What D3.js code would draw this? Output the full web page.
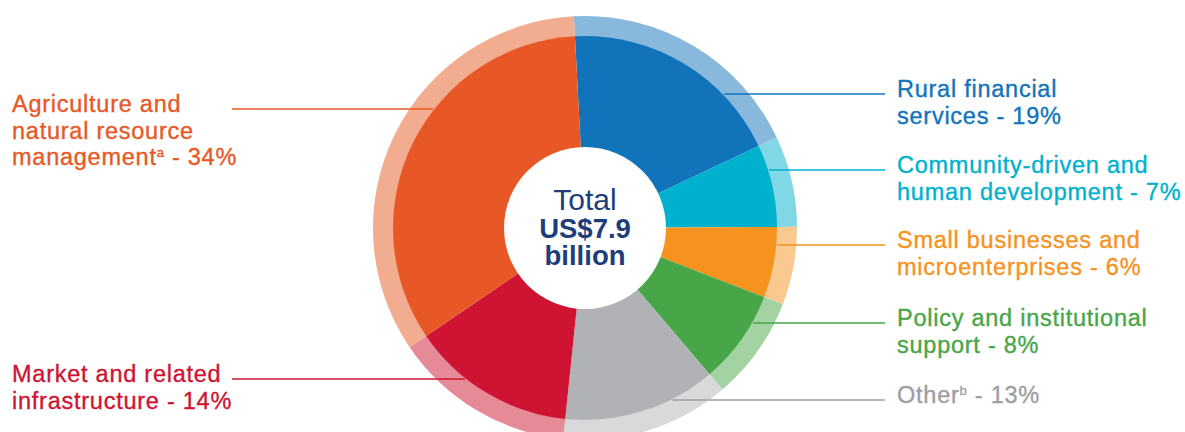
<!DOCTYPE html>
<html>
<head>
<meta charset="utf-8">
<script src="https://cdn.jsdelivr.net/npm/d3@7"></script>
<style>
    body { margin: 0; background: #fff; }
    text { font-family: "Liberation Sans", Arial, Helvetica, sans-serif; }
</style>
</head>
<body>
<svg id="Chart"></svg>
<script>
// data, clockwise from the top
const categories = [
    'Rural financial services',
    'Community-driven and human development',
    'Small businesses and microenterprises',
    'Policy and institutional support',
    'Other',
    'Market and related infrastructure',
    'Agriculture and natural resource management'
];
const shares = [19, 7, 6, 8, 13, 14, 34];
// label text as printed, {x} marks a footnote superscript
const labelLines = [
    ['Rural financial', 'services'],
    ['Community-driven and', 'human development'],
    ['Small businesses and', 'microenterprises'],
    ['Policy and institutional', 'support'],
    ['Other{b}'],
    ['Market and related', 'infrastructure'],
    ['Agriculture and', 'natural resource', 'management{a}']
];
const centerLines = ['Total', 'US$7.9', 'billion'];

// styles
const sliceColors = ['#1174BB', '#00B1CD', '#F6921E', '#47A647', '#B1B2B6', '#CE1432', '#E85826'];
const ringColors = ['#88B8DC', '#80D8E6', '#FAC98F', '#A3D3A3', '#D8D9DB', '#E68A98', '#F2AC90'];
const textColors = ['#1174BB', '#00B1CD', '#F6921E', '#47A647', '#9D9EA2', '#CE1432', '#E85826'];

// layout (leader line heights chosen by the designer, not slice midpoints)
const leaderY = [94, 170, 245, 323, 400, 379, 109];
const leaderSide = ['right', 'right', 'right', 'right', 'right', 'left', 'left'];

function getConfig() {
    let width = 1185;
    let height = 432;
    let cx = 585, cy = 228;
    let pieRadius = 192, ringRadius = 212, holeRadius = 81;
    let container = d3.select('#Chart')
        .attr('width', width)
        .attr('height', height);
    return { width, height, cx, cy, pieRadius, ringRadius, holeRadius, container };
}

function drawPie(config) {
    let { container, cx, cy, pieRadius, ringRadius, holeRadius } = config;
    let deg = Math.PI / 180;
    let pie = d3.pie().sort(null).value(d => d)
        .startAngle(-3 * deg)
        .endAngle(357 * deg);
    let arcs = pie(shares);

    let body = container.append('g')
        .attr('transform', `translate(${cx},${cy})`);

    let ringArc = d3.arc().innerRadius(pieRadius - 0.5).outerRadius(ringRadius);
    let sliceArc = d3.arc().innerRadius(0).outerRadius(pieRadius);

    body.selectAll('.ring').data(arcs)
        .enter().append('path')
        .attr('class', 'ring')
        .attr('d', ringArc)
        .attr('fill', (d, i) => ringColors[i]);

    body.selectAll('.slice').data(arcs)
        .enter().append('path')
        .attr('class', 'slice')
        .attr('d', sliceArc)
        .attr('fill', (d, i) => sliceColors[i]);

    body.append('circle')
        .attr('r', holeRadius)
        .attr('fill', '#fff');

    let center = body.append('text')
        .attr('text-anchor', 'middle')
        .attr('fill', '#1D3E7A');
    center.selectAll('tspan').data(centerLines)
        .enter().append('tspan')
        .attr('x', 0)
        .attr('y', (d, i) => -18 + i * 27.5)
        .style('font-size', (d, i) => i === 0 ? '30px' : '27.5px')
        .style('font-weight', (d, i) => i === 0 ? 'normal' : 'bold')
        .text(d => d);
}

function drawLabels(config) {
    let { container, cx, cy } = config;
    let lineR = 193;
    let rightEnd = 885, rightText = 897;
    let leftEnd = 232, leftText = 12;
    let lineHeight = 26.5;

    categories.forEach((c, i) => {
        let y = leaderY[i];
        let dx = Math.sqrt(lineR * lineR - (y - cy) * (y - cy));
        let right = leaderSide[i] === 'right';
        let x1 = right ? cx + dx : leftEnd;
        let x2 = right ? rightEnd : cx - dx;

        container.append('line')
            .attr('x1', x1).attr('x2', x2)
            .attr('y1', y).attr('y2', y)
            .attr('stroke', textColors[i])
            .attr('stroke-width', 1.5);

        let lines = labelLines[i].slice();
        lines[lines.length - 1] += ` - ${shares[i]}%`;

        let label = container.append('text')
            .attr('fill', textColors[i])
            .attr('stroke', textColors[i])
            .attr('stroke-width', 0.35)
            .style('font-size', '23.5px')
            .style('letter-spacing', '0.75px');

        lines.forEach((ln, j) => {
            let parts = ln.split(/\{(.)\}/);
            label.append('tspan')
                .attr('x', right ? rightText : leftText)
                .attr('y', y + 3 + j * lineHeight)
                .text(parts[0]);
            if (parts.length > 1) {
                label.append('tspan')
                    .attr('dy', -8)
                    .style('font-size', '13px')
                    .text(parts[1]);
                label.append('tspan')
                    .attr('dy', 8)
                    .text(parts[2]);
            }
        });
    });
}

function drawChart() {
    let config = getConfig();
    drawPie(config);
    drawLabels(config);
}

drawChart();
</script>
</body>
</html>
